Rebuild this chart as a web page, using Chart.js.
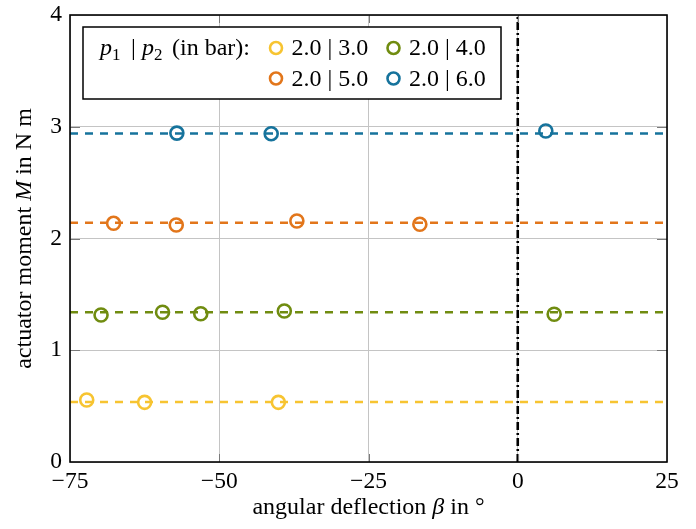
<!DOCTYPE html>
<html>
<head>
<meta charset="utf-8">
<script src="https://cdn.jsdelivr.net/npm/chart.js@4.4.1/dist/chart.umd.min.js"></script>
<style>
  body { margin: 0; background: #fff; }
</style>
</head>
<body>
<canvas id="myChart" width="696" height="529"></canvas>
<script>
// axis ranges / ticks
const xRange = [-75, 25];
const yRange = [0, 4];
const xStep = 25;
const yStep = 1;

// series: p1 | p2 (in bar)
const seriesLabels = ['2.0 | 3.0', '2.0 | 4.0', '2.0 | 5.0', '2.0 | 6.0'];
const seriesColors = ['#f7c431', '#708c10', '#e2761b', '#16739c'];

const beta30 = [-72.2, -62.5, -40.1];
const moment30 = [0.555, 0.534, 0.534];
const mean30 = 0.537;

const beta40 = [-69.8, -59.5, -53.1, -39.1, 6.1];
const moment40 = [1.315, 1.34, 1.327, 1.351, 1.322];
const mean40 = 1.34;

const beta50 = [-67.7, -57.2, -37.0, -16.4];
const moment50 = [2.136, 2.121, 2.157, 2.127];
const mean50 = 2.141;

const beta60 = [-57.1, -41.3, 4.7];
const moment60 = [2.943, 2.938, 2.962];
const mean60 = 2.94;

const betaZero = 0;

const FONT = "'Liberation Serif', 'DejaVu Serif', serif";
const FS = 24;     // titles / legend
const FTICK = 23.5;
const FSUB = 17;   // subscripts

const pointSets = [[beta30, moment30], [beta40, moment40], [beta50, moment50], [beta60, moment60]];
const means = [mean30, mean40, mean50, mean60];

const datasets = [];
pointSets.forEach(function (s, i) {
  datasets.push({
    label: seriesLabels[i],
    type: 'scatter',
    data: s[0].map(function (x, k) { return { x: x, y: s[1][k] }; }),
    borderColor: seriesColors[i],
    backgroundColor: 'rgba(0,0,0,0)',
    pointRadius: 6.5,
    pointBorderWidth: 2.6,
    pointHoverRadius: 6.5,
    order: 1
  });
  datasets.push({
    label: 'mean ' + seriesLabels[i],
    type: 'line',
    data: [{ x: xRange[0], y: means[i] }, { x: xRange[1], y: means[i] }],
    borderColor: seriesColors[i],
    borderWidth: 2.6,
    borderDash: [8, 7],
    pointRadius: 0,
    fill: false,
    order: 3
  });
});
datasets.push({
  label: 'zero',
  type: 'line',
  data: [{ x: betaZero, y: yRange[0] }, { x: betaZero, y: yRange[1] }],
  borderColor: '#000',
  borderWidth: 2.6,
  borderDash: [8, 3, 2, 3],
  pointRadius: 0,
  fill: false,
  order: 2
});

// draw text made of runs (italic / subscript)
function setFont(c, r) {
  c.font = (r.it ? 'italic ' : '') + (r.sub ? FSUB : FS) + 'px ' + FONT;
}
function runWidth(c, runs) {
  let w = 0;
  runs.forEach(function (r) { setFont(c, r); w += c.measureText(r.t).width; });
  return w;
}
function drawRuns(c, runs, x, y) {
  runs.forEach(function (r) {
    if (r.at !== undefined) x = r.at;
    setFont(c, r);
    c.fillText(r.t, x, y + (r.sub ? 5 : 0));
    x += c.measureText(r.t).width;
  });
}

const decorations = {
  id: 'decorations',
  afterDatasetsDraw: function (chart) {
    const c = chart.ctx;
    const a = chart.chartArea;
    const xs = chart.scales.x, ys = chart.scales.y;
    c.save();
    // inward tick marks
    c.strokeStyle = '#7a7a7a';
    c.lineWidth = 1;
    for (let v = xRange[0] + xStep; v < xRange[1]; v += xStep) {
      const px = Math.round(xs.getPixelForValue(v)) + 0.5;
      c.beginPath();
      c.moveTo(px, a.bottom); c.lineTo(px, a.bottom - 8);
      c.moveTo(px, a.top); c.lineTo(px, a.top + 8);
      c.stroke();
    }
    for (let v = yRange[0] + yStep; v < yRange[1]; v += yStep) {
      const py = Math.round(ys.getPixelForValue(v)) + 0.5;
      c.beginPath();
      c.moveTo(a.left, py); c.lineTo(a.left + 10, py);
      c.moveTo(a.right, py); c.lineTo(a.right - 10, py);
      c.stroke();
    }
    // frame
    c.strokeStyle = '#000';
    c.lineWidth = 1.6;
    c.strokeRect(a.left, a.top, a.right - a.left, a.bottom - a.top);

    // legend box
    const lx = 83, ly = 27, lw = 418, lh = 72;
    c.fillStyle = '#fff';
    c.fillRect(lx, ly, lw, lh);
    c.lineWidth = 1.5;
    c.strokeRect(lx, ly, lw, lh);
    c.fillStyle = '#000';
    c.textBaseline = 'alphabetic';
    c.textAlign = 'left';
    drawRuns(c, [
      { t: 'p', it: true, at: 100 }, { t: '1', sub: true },
      { t: '|', at: 131 },
      { t: 'p', it: true, at: 142 }, { t: '2', sub: true },
      { t: '(in bar):', at: 172 }
    ], 100, 55);
    const cols = [276, 393.5];
    const rows = [48, 78.5];
    seriesLabels.forEach(function (lab, i) {
      const cx = cols[i % 2], cy = rows[Math.floor(i / 2)];
      c.beginPath();
      c.arc(cx, cy, 6, 0, Math.PI * 2);
      c.strokeStyle = seriesColors[i];
      c.lineWidth = 2.6;
      c.stroke();
      c.fillStyle = '#000';
      c.font = FS + 'px ' + FONT;
      c.fillText(lab, cx + 15.5, cy + 7);
    });

    // axis titles
    const xt = [{ t: 'angular deflection ' }, { t: 'β', it: true }, { t: ' in °' }];
    c.fillStyle = '#000';
    drawRuns(c, xt, (a.left + a.right) / 2 - runWidth(c, xt) / 2, 514);
    const yt = [{ t: 'actuator moment ' }, { t: 'M', it: true }, { t: ' in N m' }];
    c.translate(31, (a.top + a.bottom) / 2);
    c.rotate(-Math.PI / 2);
    drawRuns(c, yt, -runWidth(c, yt) / 2, 0);
    c.restore();
  }
};

const ctx = document.getElementById('myChart');

new Chart(ctx, {
  data: { datasets: datasets },
  plugins: [decorations],
  options: {
    responsive: false,
    animation: false,
    layout: { padding: { left: 0, top: 15, right: 29, bottom: 0 } },
    plugins: {
      legend: { display: false },
      tooltip: { enabled: false }
    },
    scales: {
      x: {
        type: 'linear',
        min: xRange[0],
        max: xRange[1],
        ticks: {
          stepSize: xStep,
          color: '#000',
          padding: 6,
          font: { family: FONT, size: FTICK },
          callback: function (v) { return String(v).replace('-', '\u2212'); }
        },
        grid: { color: '#c4c4c4', lineWidth: 1, drawTicks: false },
        border: { display: false },
        afterFit: function (s) { s.height = 67; s.paddingLeft = 0; s.paddingRight = 0; }
      },
      y: {
        type: 'linear',
        min: yRange[0],
        max: yRange[1],
        ticks: {
          stepSize: yStep,
          color: '#000',
          padding: 8,
          font: { family: FONT, size: FTICK }
        },
        grid: { color: '#c4c4c4', lineWidth: 1, drawTicks: false },
        border: { display: false },
        afterFit: function (s) { s.width = 70; s.paddingTop = 0; s.paddingBottom = 0; }
      }
    }
  }
});
</script>
</body>
</html>
